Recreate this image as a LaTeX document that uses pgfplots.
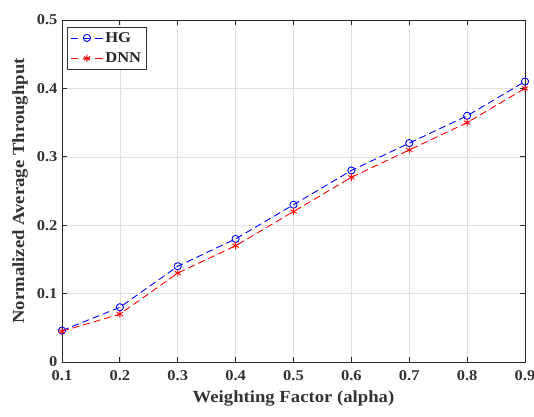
\documentclass[border=0pt]{standalone}
\usepackage{fontspec}
\setmainfont{Liberation Serif}[FakeStretch=1.1]
\usepackage{pgfplots}
\pgfplotsset{compat=1.18}
\begin{document}
\begin{tikzpicture}
\begin{axis}[
  name=ax,
  scale only axis,
  width=463pt, height=342pt,
  xmin=0.1, xmax=0.9, ymin=0, ymax=0.5,
  xtick={0.1,0.2,...,0.9},
  ytick={0,0.1,...,0.5},
  xticklabels={0.1,0.2,0.3,0.4,0.5,0.6,0.7,0.8,0.9},
  yticklabels={0,0.1,0.2,0.3,0.4,0.5},
  tick align=inside,
  tick pos=both,
  major tick length=5pt,
  grid=major,
  grid style={line width=0.6pt, black!12},
  axis line style={line width=0.8pt, black!85},
  every tick/.style={line width=0.8pt, black!85},
  tick label style={font=\fontsize{15}{17}\selectfont\bfseries, text=black!80},
  xticklabel style={yshift=-5pt},
  yticklabel style={xshift=-1pt},
  /pgf/number format/assume math mode=true,
  xlabel={Weighting Factor (alpha)},
  ylabel={Normalized Average Throughput},
  every axis x label/.style={at={(axis description cs:0.5,-0.108)}, anchor=center,
    font=\fontsize{17}{20}\selectfont\bfseries, text=black!80},
  every axis y label/.style={at={(axis description cs:-0.0907,0.5)}, rotate=90, anchor=center,
    font=\fontsize{17}{20}\selectfont\bfseries, text=black!80},
  legend style={at={(0.011,0.98)}, anchor=north west, draw=black!80, line width=0.8pt,
    font=\fontsize{15}{17}\selectfont\bfseries, text=black!85, inner sep=3pt,
    row sep=5pt},
  legend cell align=left,
  legend image code/.code={\draw[mark repeat=2,mark phase=2, dash pattern=on 7pt off 5pt on 7pt off 5pt on 8pt] plot coordinates {(0pt,0pt) (16pt,0pt) (32pt,0pt)};},
]
\addplot[blue, line width=0.9pt, dash pattern=on 7pt off 4pt, mark=o, mark size=3.6pt, mark options={solid, line width=0.9pt}]
  coordinates {(0.1,0.046) (0.2,0.080) (0.3,0.140) (0.4,0.180) (0.5,0.230) (0.6,0.280) (0.7,0.320) (0.8,0.360) (0.9,0.410)};
\addlegendentry{HG}
\addplot[red, line width=0.9pt, dash pattern=on 7pt off 4pt, mark=asterisk, mark size=3.6pt, mark options={solid, line width=0.9pt}]
  coordinates {(0.1,0.045) (0.2,0.070) (0.3,0.130) (0.4,0.170) (0.5,0.220) (0.6,0.270) (0.7,0.310) (0.8,0.350) (0.9,0.400)};
\addlegendentry{DNN}
\end{axis}
\pgfresetboundingbox
\path ([xshift=-62pt,yshift=-54pt]ax.south west) rectangle ([xshift=9pt,yshift=20pt]ax.north east);
\end{tikzpicture}
\end{document}
